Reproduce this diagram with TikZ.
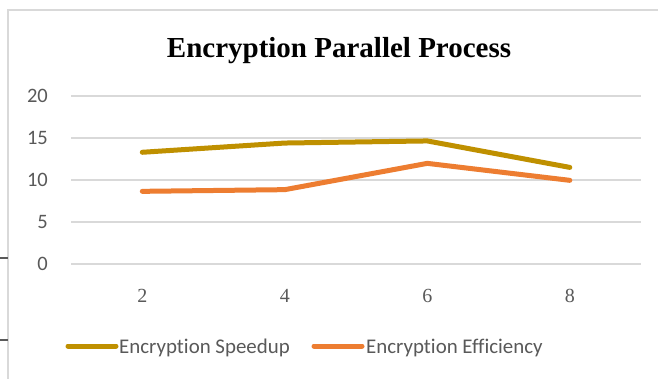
\documentclass[tikz,border=0pt]{standalone}
\usepackage{fontspec}
\setmainfont{Liberation Serif}
\newfontfamily\calfont[Ligatures=NoCommon]{Carlito}
\definecolor{txtgray}{HTML}{595959}
\definecolor{gridgray}{HTML}{D9D9D9}
\definecolor{gold}{HTML}{BF9000}
\definecolor{orng}{HTML}{ED7D31}
\begin{document}
\begin{tikzpicture}[x=1pt,y=-1pt,
  gridline/.style={gridgray,line width=1.1pt},
  ylab/.style={anchor=east,inner sep=0pt,text=txtgray,font=\calfont\fontsize{20.5}{20.5}\selectfont},
  xlab/.style={anchor=base,inner sep=0pt,text=txtgray,font=\fontsize{20}{20}\selectfont},
  series/.style={line width=5pt,line cap=round,line join=round},
  legtext/.style={anchor=base west,inner sep=0pt,text=txtgray,font=\calfont\fontsize{20.9}{20.9}\selectfont}]
\useasboundingbox (0,0) rectangle (658,379);
\fill[white] (0,0) rectangle (658,379);
% frame
\coordinate (fTL) at (8,10);
\coordinate (fTR) at (658,10);
\coordinate (fBL) at (8,379);
\draw[gridgray,line width=1.2pt] (fBL) -- (fTL) -- (fTR);
\coordinate (t1a) at (0,258); \coordinate (t1b) at (8,258);
\coordinate (t2a) at (0,340); \coordinate (t2b) at (8,340);
\draw[txtgray,line width=1.2pt] (t1a) -- (t1b);
\draw[txtgray,line width=1.2pt] (t2a) -- (t2b);
% title
\node[anchor=base,inner sep=0pt,font=\bfseries\fontsize{29}{29}\selectfont] (title) at (339,58) {Encryption Parallel Process};
% gridlines and y labels
\foreach \v in {0,5,10,15,20}{
  \coordinate (gl\v) at (71,264-8.4*\v);
  \coordinate (gr\v) at (641,264-8.4*\v);
  \draw[gridline] (gl\v) -- (gr\v);
  \node[ylab] (yl\v) at (48,264-8.4*\v) {\v};
}
% x labels
\foreach \c/\lab in {0/2,1/4,2/6,3/8}{
  \node[xlab] (xl\lab) at (142.3+142.5*\c,302) {\lab};
}
% data
\coordinate (s2) at (142.3,{264-8.4*13.3});
\coordinate (s4) at (284.8,{264-8.4*14.4});
\coordinate (s6) at (427.3,{264-8.4*14.65});
\coordinate (s8) at (569.8,{264-8.4*11.5});
\coordinate (e2) at (142.3,{264-8.4*8.65});
\coordinate (e4) at (284.8,{264-8.4*8.85});
\coordinate (e6) at (427.3,{264-8.4*11.98});
\coordinate (e8) at (569.8,{264-8.4*9.96});
\draw[series,orng] (e2) -- (e4) -- (e6) -- (e8);
\draw[series,gold] (s2) -- (s4) -- (s6) -- (s8);
% legend
\coordinate (lg1a) at (68,346); \coordinate (lg1b) at (116,346);
\draw[series,gold] (lg1a) -- (lg1b);
\node[legtext] (leg1) at (119,353) {Encryption Speedup};
\coordinate (lg2a) at (314,346); \coordinate (lg2b) at (362,346);
\draw[series,orng] (lg2a) -- (lg2b);
\node[legtext] (leg2) at (366,353) {Encryption Efficiency};
\end{tikzpicture}
\end{document}
